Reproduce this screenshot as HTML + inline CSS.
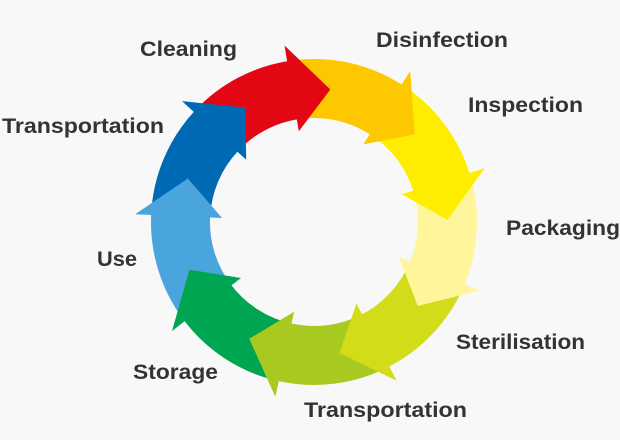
<!DOCTYPE html>
<html><head><meta charset="utf-8"><style>
html,body{margin:0;padding:0;background:#f8f8f8;}
svg{display:block}
text{font-family:"Liberation Sans",sans-serif;font-weight:bold;font-size:21px;fill:#333;}
</style></head><body>
<svg id="s" width="620" height="440" viewBox="0 0 620 440" xmlns="http://www.w3.org/2000/svg">
<g id="g"></g>
<text x="140" y="56" textLength="97" lengthAdjust="spacingAndGlyphs">Cleaning</text>
<text x="376" y="47" textLength="132" lengthAdjust="spacingAndGlyphs">Disinfection</text>
<text x="468" y="112" textLength="115" lengthAdjust="spacingAndGlyphs">Inspection</text>
<text x="506" y="235" textLength="114" lengthAdjust="spacingAndGlyphs">Packaging</text>
<text x="456" y="349" textLength="129" lengthAdjust="spacingAndGlyphs">Sterilisation</text>
<text x="304" y="417" textLength="163" lengthAdjust="spacingAndGlyphs">Transportation</text>
<text x="133" y="379" textLength="85" lengthAdjust="spacingAndGlyphs">Storage</text>
<text x="97" y="266" textLength="40" lengthAdjust="spacingAndGlyphs">Use</text>
<text x="2" y="133" textLength="162" lengthAdjust="spacingAndGlyphs">Transportation</text>
</svg>
<script>
(function(){
var cx=314,cy=222,R=163,r=104,m=(R+r)/2,T=16;
var bases=[261,303,343,23,63,103,143,183,223];
var cols=["#e30613","#fdc800","#ffed00","#fff59b","#d3dc18","#a8c920","#00a551","#4aa5dc","#0069b4"];
function P(rad,a){a=a*Math.PI/180;return (cx+rad*Math.cos(a)).toFixed(1)+","+(cy+rad*Math.sin(a)).toFixed(1);}
var g=document.getElementById("g"),body="",heads="";
for(var i=0;i<9;i++){
 var b=bases[i],pb=bases[(i+8)%9];
 var a0=pb, a1=b; if(a1<a0)a1+=360;
 var d="M"+P(R,a0)+" A"+R+","+R+" 0 0 1 "+P(R,a1)+
   " L"+P(r,a1)+
   " A"+r+","+r+" 0 0 0 "+P(r,a0)+" L"+P(m,a0+T)+" Z";
 body+='<path d="'+d+'" fill="'+cols[i]+'"/>';
 heads+='<path d="M'+P(R+16,a1-0.5)+' L'+P(m,a1+T)+' L'+P(r-12,a1-0.5)+' Z" fill="'+cols[i]+'"/>';
}
g.innerHTML=body+heads;
})();
</script>
</body></html>
